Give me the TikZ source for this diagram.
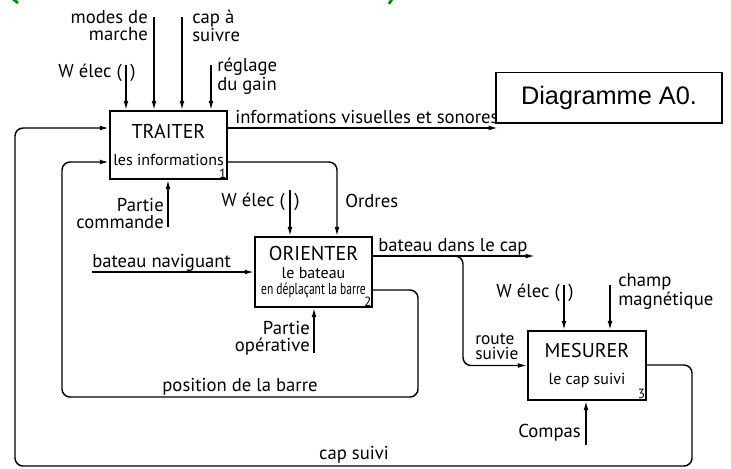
\documentclass[tikz,border=0pt]{standalone}
\usepackage{fontspec}
\setmainfont{PT Sans}
\newfontfamily\arialfont{Liberation Sans}
\usepackage{graphicx}
\usetikzlibrary{positioning, arrows.meta, calc}

\begin{document}
\begin{tikzpicture}[
    x=0.75pt, y=-0.75pt,
    fonction/.style={draw, line width=1.1pt, minimum width=88pt, inner sep=0pt, align=center, font=\fontsize{12}{14}\selectfont},
    lbl/.style={inner sep=0pt, align=left, font=\fontsize{14}{12.5}\selectfont},
    fleche/.style={-{Latex[length=7pt, width=3.6pt]}, line width=1.1pt},
    boucle/.style={fleche, rounded corners=6pt},
    num/.style={inner sep=1pt, anchor=south east, font=\fontsize{10}{10}\selectfont}
]
    \useasboundingbox (0,0) rectangle (731,468);

    % fonctions
    \node[fonction, minimum height=51pt] (traiter) at (168.5,145) {{\fontsize{15}{15}\selectfont TRAITER}\\[6pt]les informations};
    \node[fonction, minimum height=52.5pt] (orienter) at (313.5,272) {{\fontsize{15}{15}\selectfont ORIENTER}\\[-1pt]le bateau\\[-2pt]\scalebox{0.72}[1]{en déplaçant la barre}};
    \node[fonction, minimum width=88.5pt, minimum height=51.75pt] (mesurer) at (587,365.5) {{\fontsize{15}{15}\selectfont MESURER}\\[6pt]le cap suivi};
    \node[num] (num1) at (traiter.south east) {1};
    \node[num] (num2) at (orienter.south east) {2};
    \node[num] (num3) at (mesurer.south east) {3};

    % extremites libres et coudes
    \coordinate (welec1) at (126,65);
    \coordinate (modes) at (154,17);
    \coordinate (capsuivre) at (182,17);
    \coordinate (reglage) at (211,65);
    \coordinate (infos) at (498,128);
    \coordinate (ordres) at (337,162);
    \coordinate (commande) at (168,227);
    \coordinate (welec2) at (290,190);
    \coordinate (naviguant) at (92,272);
    \coordinate (operative) at (314,353);
    \coordinate (cap) at (535,256);
    \coordinate (route) at (463,256);
    \coordinate (barre) at (418,290);
    \coordinate (barrebas) at (62,397);
    \coordinate (welec3) at (564,285);
    \coordinate (champ) at (610,285);
    \coordinate (compas) at (586,445);
    \coordinate (capsuivi) at (692,365);
    \coordinate (capbas) at (15,466);

    % TRAITER
    \draw[fleche] (welec1) -- (welec1 |- traiter.north);
    \draw[fleche] (modes) -- (modes |- traiter.north);
    \draw[fleche] (capsuivre) -- (capsuivre |- traiter.north);
    \draw[fleche] (reglage) -- (reglage |- traiter.north);
    \draw[fleche] (commande) -- (commande |- traiter.south);
    \draw[fleche] (infos -| traiter.east) -- (infos);
    \draw[boucle] (ordres -| traiter.east) -- (ordres) -- (ordres |- orienter.north);

    % ORIENTER
    \draw[fleche] (welec2) -- (welec2 |- orienter.north);
    \draw[fleche] (naviguant) -- (naviguant -| orienter.west);
    \draw[fleche] (operative) -- (operative |- orienter.south);
    \draw[fleche] (cap -| orienter.east) -- (cap);
    \draw[boucle] (route -| orienter.east) -- (route) -- (route |- mesurer.west) -- (mesurer.west);
    \draw[boucle] (barre -| orienter.east) -- (barre) -- (barre |- barrebas) -- (barrebas) -- (barrebas |- ordres) -- (ordres -| traiter.west);

    % MESURER
    \draw[fleche] (welec3) -- (welec3 |- mesurer.north);
    \draw[fleche] (champ) -- (champ |- mesurer.north);
    \draw[fleche] (compas) -- (compas |- mesurer.south);
    \draw[boucle] (capsuivi -| mesurer.east) -- (capsuivi) -- (capsuivi |- capbas) -- (capbas) -- (capbas |- infos) -- (infos -| traiter.west);

    % textes des fleches
    \node[lbl, anchor=east] (lwelec1) at (122,73) {W élec (};
    \node[lbl, anchor=west] (rwelec1) at (130,73) {)};
    \node[lbl, anchor=north east, align=right] (lmodes) at (148,10) {modes de\\marche};
    \node[lbl, anchor=north west] (lcapsuivre) at (192,10) {cap à\\suivre};
    \node[lbl, anchor=north west] (lreglage) at (217,58) {réglage\\du gain};
    \node[lbl, anchor=base west] (linfos) at (235,123) {informations visuelles et sonores};
    \node[lbl, anchor=west] (lordres) at (345,201) {Ordres};
    \node[lbl, anchor=south east, align=right] (lcommande) at (164,229) {Partie\\commande};
    \node[lbl, anchor=east] (lwelec2) at (285,202) {W élec (};
    \node[lbl, anchor=west] (rwelec2) at (294,202) {)};
    \node[lbl, anchor=base west] (lnaviguant) at (92,267) {bateau naviguant};
    \node[lbl, anchor=south east, align=right] (loperative) at (310,355) {Partie\\opérative};
    \node[lbl, anchor=base west] (lcap) at (378,251) {bateau dans le cap};
    \node[lbl, anchor=south west, font=\fontsize{13}{11.5}\selectfont] (lroute) at (475,360) {route\\suivie};
    \node[lbl] (lbarre) at (240,387) {position de la barre};
    \node[lbl, anchor=east] (lwelec3) at (560,293) {W élec (};
    \node[lbl, anchor=west] (rwelec3) at (568,293) {)};
    \node[lbl, anchor=north west, font=\fontsize{14}{14}\selectfont] (lchamp) at (618,273) {champ\\magnétique};
    \node[lbl, anchor=east] (lcompas) at (581,433) {Compas};
    \node[lbl] (lcapsuivi) at (354,455) {cap suivi};

    % cartouche
    \node[draw, fill=white, line width=1pt, minimum width=169.5pt, minimum height=38pt, font=\arialfont\fontsize{19}{19}\selectfont] (titre) at (609,97.5) {Diagramme A0.};

    % restes du titre coupe
    \draw[green!55!black, line width=2pt] (13,-1) -- (18,3);
    \draw[green!55!black, line width=2pt] (392,-1) -- (389,4);
\end{tikzpicture}
\end{document}
